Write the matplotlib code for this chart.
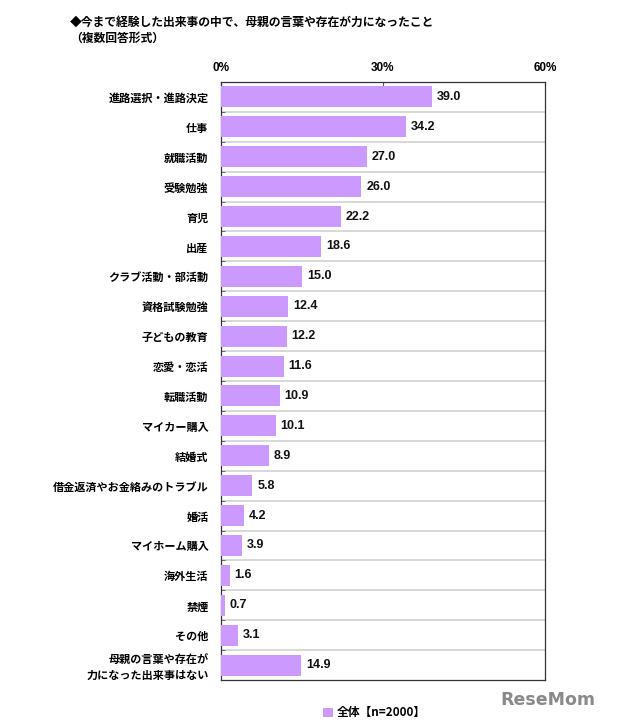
import matplotlib
matplotlib.use("Agg")
import matplotlib.pyplot as plt
import numpy as np

plt.rcParams['font.family'] = ['Noto Sans CJK JP', 'DejaVu Sans']

categories = [
    "進路選択・進路決定", "仕事", "就職活動", "受験勉強", "育児", "出産",
    "クラブ活動・部活動", "資格試験勉強", "子どもの教育", "恋愛・恋活",
    "転職活動", "マイカー購入", "結婚式", "借金返済やお金絡みのトラブル",
    "婚活", "マイホーム購入", "海外生活", "禁煙", "その他",
    "母親の言葉や存在が\n力になった出来事はない",
]
values = [39.0, 34.2, 27.0, 26.0, 22.2, 18.6, 15.0, 12.4, 12.2, 11.6,
          10.9, 10.1, 8.9, 5.8, 4.2, 3.9, 1.6, 0.7, 3.1, 14.9]
x_ticks = [0, 30, 60]
x_tick_labels = ["0%", "30%", "60%"]
title = "◆今まで経験した出来事の中で、母親の言葉や存在が力になったこと\n（複数回答形式）"
legend_label = "全体【n=2000】"

bar_color = "#CC99FF"
num_font = "Liberation Sans"

fig = plt.figure(figsize=(6.4, 7.28), dpi=100)
ax = fig.add_axes([0.3453, 0.0659, 0.5063, 0.8215])

y = np.arange(len(categories))
bars = ax.barh(y, values, height=0.7, color=bar_color, zorder=3,
               label=legend_label)

# gray separators between rows
for b in np.arange(0.5, len(categories) - 0.5, 1):
    ax.axhline(b, color="#d4d4d4", lw=1.3, zorder=1)

for yi, v in zip(y, values):
    ax.text(v + 0.9, yi, f"{v:.1f}", va="center", ha="left",
            fontsize=9, fontweight="bold", color="#111111", family=num_font)

ax.set_xlim(0, 60)
ax.set_ylim(len(categories) - 0.5, -0.5)
ax.set_xticks(x_ticks)
ax.set_xticklabels(x_tick_labels, fontsize=8.5, fontweight="bold",
                   family=num_font)
ax.xaxis.tick_top()
ax.tick_params(axis="x", direction="in", length=3, pad=6, color="#555555")
ax.set_yticks(y)
ax.set_yticklabels(categories, fontsize=8, fontweight="bold")
ax.tick_params(axis="y", length=0, pad=9)
ax.set_yticks(np.arange(0.5, len(categories) - 0.5, 1), minor=True)
ax.tick_params(axis="y", which="minor", direction="in", length=3,
               color="#555555")
for lab in ax.get_yticklabels():
    lab.set_multialignment("right")
    lab.set_linespacing(1.2)
for s in ax.spines.values():
    s.set_color("#333333")
    s.set_linewidth(0.9)

fig.text(0.109, 0.978, title, fontsize=8.5, fontweight="bold", va="top",
         ha="left", linespacing=1.3)

fig.legend(handles=[bars], labels=[legend_label], loc="center",
           bbox_to_anchor=(0.585, 0.021), frameon=False,
           handlelength=0.8, handleheight=0.8, handletextpad=0.3,
           prop={"weight": "bold", "size": 8.5})

fig.text(0.93, 0.038, "ReseMom", fontsize=12.5, fontweight="bold",
         color="#8a8a8a", ha="right", va="center", family="DejaVu Sans")

fig.savefig("out.png", dpi=100)
